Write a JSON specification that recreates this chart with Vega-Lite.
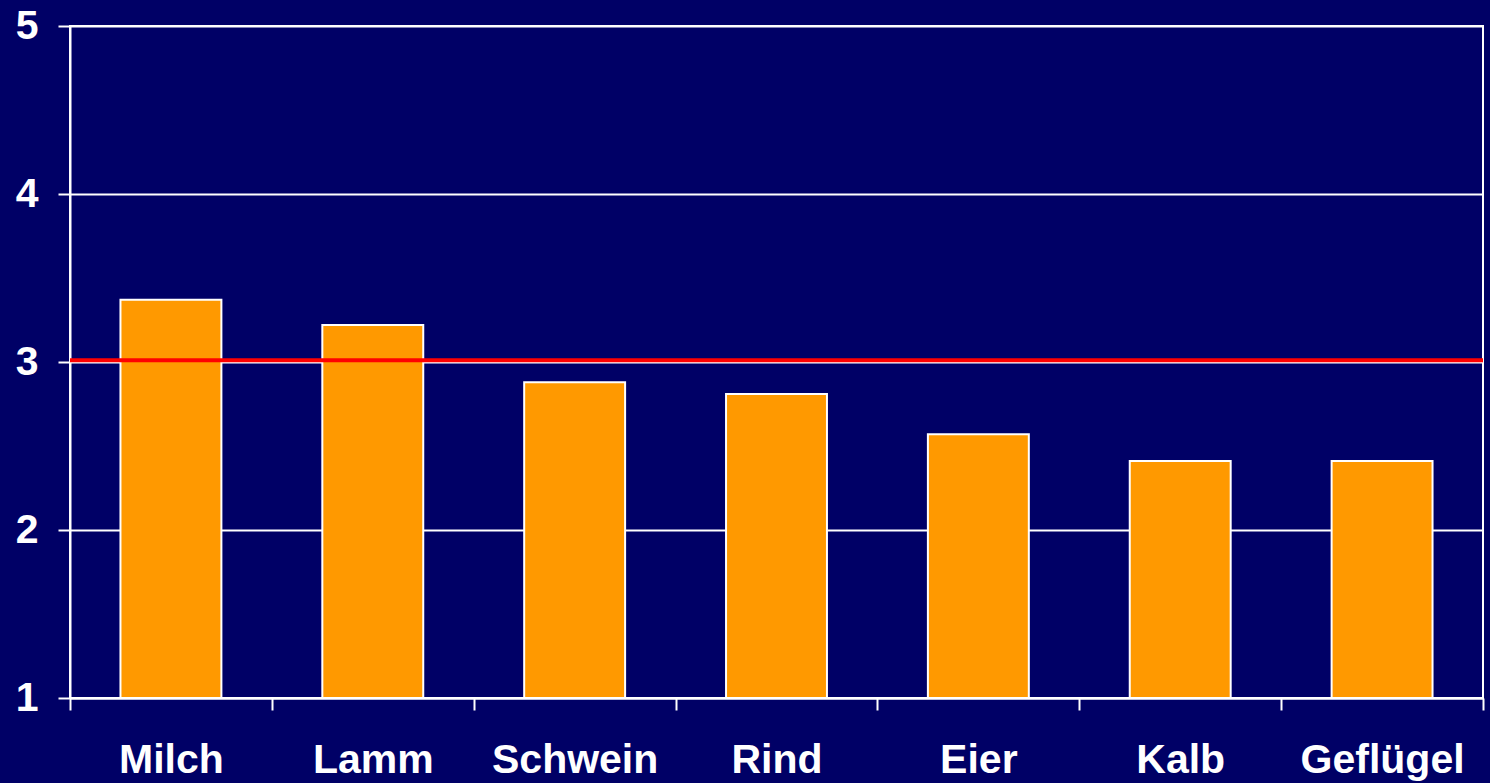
{
  "$schema": "https://vega.github.io/schema/vega-lite/v6.json",
  "width": 1413,
  "height": 672,
  "autosize": {"type": "none"},
  "padding": {"left": 70, "top": 26, "right": 7, "bottom": 85},
  "background": "#000066",
  "config": {
    "view": {"stroke": "#FFFFFF", "strokeWidth": 2, "fill": "#000066"},
    "font": "Liberation Sans"
  },
  "datasets": {
    "bars": [
      {"kategorie": "Milch", "wert": 3.37},
      {"kategorie": "Lamm", "wert": 3.22},
      {"kategorie": "Schwein", "wert": 2.88},
      {"kategorie": "Rind", "wert": 2.81},
      {"kategorie": "Eier", "wert": 2.57},
      {"kategorie": "Kalb", "wert": 2.41},
      {"kategorie": "Geflügel", "wert": 2.41}
    ],
    "linie": [{"mittel": 3.01}]
  },
  "layer": [
    {
      "data": {"name": "bars"},
      "mark": {"type": "bar", "color": "#FF9900", "stroke": "#FFFFFF", "strokeWidth": 2, "width": {"band": 0.5}},
      "encoding": {
        "x": {
          "field": "kategorie",
          "type": "nominal",
          "sort": null,
          "scale": {"paddingInner": 0, "paddingOuter": 0},
          "axis": {
            "title": null,
            "labelAngle": 0,
            "labelColor": "#FFFFFF",
            "labelFont": "Liberation Sans",
            "labelFontWeight": "bold",
            "labelFontSize": 41,
            "labelPadding": 30,
            "tickBand": "extent",
            "tickColor": "#FFFFFF",
            "tickSize": 12,
            "tickWidth": 2,
            "domainColor": "#FFFFFF",
            "domainWidth": 2,
            "grid": false
          }
        },
        "y": {
          "field": "wert",
          "type": "quantitative",
          "scale": {"domain": [1, 5], "nice": false, "zero": false},
          "axis": {
            "title": null,
            "values": [1, 2, 3, 4, 5],
            "format": "d",
            "labelColor": "#FFFFFF",
            "labelFont": "Liberation Sans",
            "labelFontWeight": "bold",
            "labelFontSize": 41,
            "labelPadding": 20,
            "tickColor": "#FFFFFF",
            "tickSize": 12,
            "tickWidth": 2,
            "domainColor": "#FFFFFF",
            "domainWidth": 2,
            "grid": true,
            "gridColor": "#FFFFFF",
            "gridWidth": 2,
            "gridOpacity": 1
          }
        },
        "y2": {"datum": 1}
      }
    },
    {
      "data": {"name": "linie"},
      "mark": {"type": "rule", "color": "#FF0000", "strokeWidth": 4},
      "encoding": {
        "y": {"field": "mittel", "type": "quantitative"}
      }
    }
  ]
}
